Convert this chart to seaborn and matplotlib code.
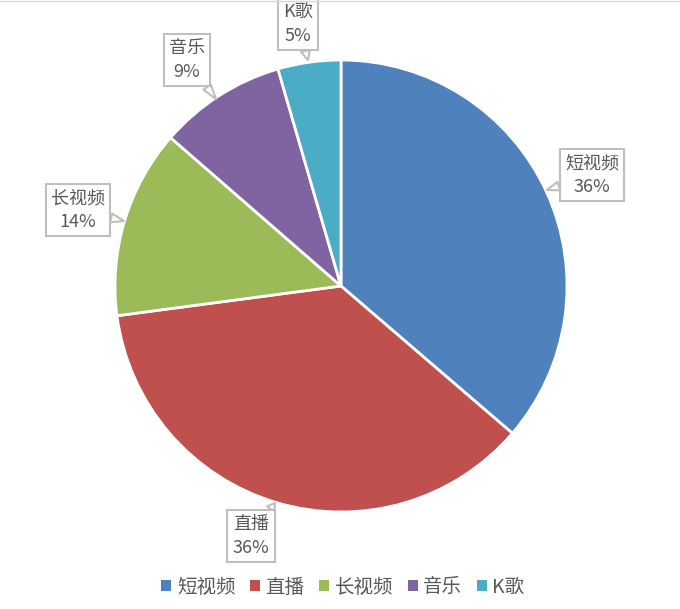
import matplotlib
matplotlib.use("Agg")
import matplotlib.pyplot as plt
import seaborn as sns
from matplotlib.patches import Patch

categories = ["短视频", "直播", "长视频", "音乐", "K歌"]
values = [36.3, 36.6, 13.5, 9.1, 4.5]
pct_labels = ["36%", "36%", "14%", "9%", "5%"]
colors = ["#4F81BD", "#C0504D", "#9BBB59", "#8064A2", "#4BACC6"]

sns.set_theme(style="white")
plt.rcParams['font.family'] = ['Noto Sans CJK SC', 'DejaVu Sans']

W, H = 680, 609
fig = plt.figure(figsize=(W / 100, H / 100), dpi=100)
ax = fig.add_axes([0, 0, 1, 1])
ax.set_xlim(0, W)
ax.set_ylim(0, H)
ax.axis("off")

cx, cy, r = 341, H - 286, 226
wedges, _ = ax.pie(values, colors=colors, startangle=90, counterclock=False,
                   center=(cx, cy), radius=r,
                   wedgeprops=dict(edgecolor="white", linewidth=2))
ax.set_xlim(0, W)
ax.set_ylim(0, H)
ax.set_aspect("equal")

# callout positions (pixel coords, y from top) and pointer tips
label_pos = [(592, 175), (251, 536), (78, 210), (187, 60), (298, 24)]
tips = [(547, 190), (275, 503), (124, 221), (216, 99), (308, 60)]
text_color = "#595959"
for cat, pct, (lx, ly), (tx, ty) in zip(categories, pct_labels, label_pos, tips):
    ax.annotate(f"{cat}\n{pct}", xy=(tx, H - ty), xytext=(lx, H - ly),
                ha="center", va="center", fontsize=13, color=text_color,
                linespacing=1.4,
                bbox=dict(boxstyle="square,pad=0.3", fc="white", ec="#BFBFBF", lw=1.5),
                arrowprops=dict(arrowstyle="wedge,tail_width=0.5,shrink_factor=0.5",
                                fc="white", ec="#BFBFBF", lw=1.5,
                                shrinkA=0, shrinkB=0))

handles = [Patch(facecolor=c, edgecolor="none") for c in colors]
leg = fig.legend(handles, categories, loc="center", bbox_to_anchor=(343 / W, 1 - 587 / H),
                 ncol=5, frameon=False, fontsize=14, handlelength=0.5, handleheight=0.5,
                 handletextpad=0.3, columnspacing=0.75)
for t in leg.get_texts():
    t.set_color(text_color)

# thin top border line
fig.add_artist(plt.Line2D([0, 1], [1 - 0.5 / H, 1 - 0.5 / H], transform=fig.transFigure,
                          color="#D9D9D9", lw=1))

fig.savefig("out.png", dpi=100, facecolor="white")
